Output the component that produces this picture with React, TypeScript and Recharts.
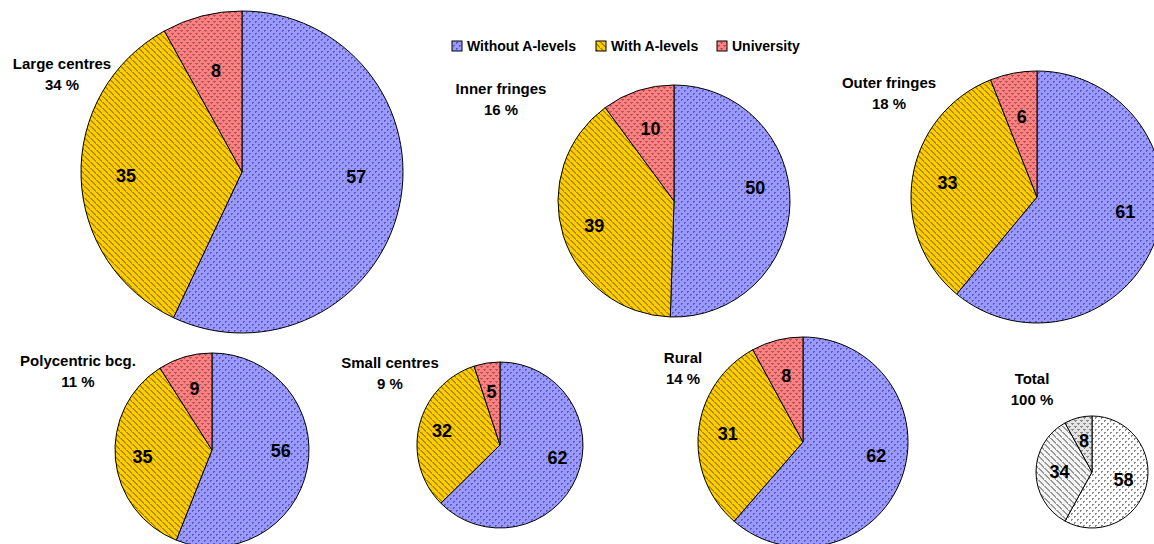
import { PieChart, Pie, Cell } from 'recharts'

const categories = ['Without A-levels', 'With A-levels', 'University']
const groups = ['Large centres', 'Inner fringes', 'Outer fringes', 'Polycentric bcg.', 'Small centres', 'Rural', 'Total']
const groupShares = [34, 16, 18, 11, 9, 14, 100]
const withoutALevels = [57, 50, 61, 56, 62, 62, 58]
const withALevels = [35, 39, 33, 35, 32, 31, 34]
const university = [8, 10, 6, 9, 5, 8, 8]

// where each pie sits on the page (pixels)
const layout = [
  { cx: 242, cy: 172, r: 161, tx: 62, ty: 63 },
  { cx: 674, cy: 201, r: 116, tx: 501, ty: 88 },
  { cx: 1037, cy: 197, r: 126, tx: 889, ty: 82 },
  { cx: 212, cy: 450, r: 97, tx: 78, ty: 360 },
  { cx: 500, cy: 445, r: 83, tx: 390, ty: 362 },
  { cx: 803, cy: 442, r: 105, tx: 683, ty: 357 },
  { cx: 1092, cy: 472, r: 56, tx: 1032, ty: 378 },
]

// label placement per slice type: fraction of radius, angle nudge (deg)
const labelRadius = [0.71, 0.72, 0.65]
const labelShift = [10, 0, 0]

const colorFills = ['url(#pat-blue)', 'url(#pat-yellow)', 'url(#pat-red)']
const totalFills = ['url(#pat-t0)', 'url(#pat-t1)', 'url(#pat-t2)']

const FONT = '"Liberation Sans", Arial, Helvetica, sans-serif'
const RAD = Math.PI / 180

const pieData = groups.map((g, i) => [
  { name: categories[0], value: withoutALevels[i] },
  { name: categories[1], value: withALevels[i] },
  { name: categories[2], value: university[i] },
])

const valueLabel = (isTotal: boolean) => (props: any) => {
  const { cx, cy, midAngle, outerRadius, value, index } = props
  const k = isTotal ? 0.58 : labelRadius[index]
  const a = (midAngle + (isTotal ? 0 : labelShift[index])) * RAD
  const x = cx + outerRadius * k * Math.cos(-a)
  const y = cy + outerRadius * k * Math.sin(-a)
  return (
    <text x={x} y={y} textAnchor="middle" dominantBaseline="central"
      fontFamily={FONT} fontWeight="bold" fontSize={18} fill="#000">
      {value}
    </text>
  )
}

export default function App() {
  return (
    <div style={{ position: 'absolute', left: 0, top: 0, background: '#fff' }}>
      <PieChart width={1154} height={544} margin={{ top: 0, right: 0, bottom: 0, left: 0 }}>
        <defs>
          <pattern id="pat-blue" width={6} height={6} patternUnits="userSpaceOnUse">
            <rect width={6} height={6} fill="#9999ff" />
            <path d="M0,0h2v1h-1v1h-1z M3,3h2v1h-1v1h-1z" fill="#5c5cb0" />
          </pattern>
          <pattern id="pat-yellow" width={6} height={6} patternUnits="userSpaceOnUse">
            <rect width={6} height={6} fill="#ffcc00" />
            <path d="M0,0h2v1h1v1h1v1h1v1h1v2h-1v-1h-1v-1h-1v-1h-1v-1h-1v-1h-1z" fill="#b08c00" />
          </pattern>
          <pattern id="pat-red" width={6} height={6} patternUnits="userSpaceOnUse">
            <rect width={6} height={6} fill="#ff8080" />
            <path d="M0,0h3v1h-3z M3,3h3v1h-3z M1,1h1v1h-1z M4,4h1v1h-1z" fill="#b05858" />
          </pattern>
          <pattern id="pat-t0" width={6} height={6} patternUnits="userSpaceOnUse">
            <rect width={6} height={6} fill="#fff" />
            <path d="M0,0h2v1h-1v1h-1z M3,3h2v1h-1v1h-1z" fill="#8a8a8a" />
          </pattern>
          <pattern id="pat-t1" width={6} height={6} patternUnits="userSpaceOnUse">
            <rect width={6} height={6} fill="#f4f4f4" />
            <path d="M0,0h2v1h1v1h1v1h1v1h1v2h-1v-1h-1v-1h-1v-1h-1v-1h-1v-1h-1z" fill="#9a9a9a" />
          </pattern>
          <pattern id="pat-t2" width={6} height={6} patternUnits="userSpaceOnUse">
            <rect width={6} height={6} fill="#e4e4e4" />
            <path d="M0,0h3v1h-3z M3,3h3v1h-3z M1,1h1v1h-1z M4,4h1v1h-1z" fill="#8a8a8a" />
          </pattern>
        </defs>

        {pieData.map((data, i) => {
          const l = layout[i]
          const isTotal = i === groups.length - 1
          const fills = isTotal ? totalFills : colorFills
          return (
            <Pie
              key={groups[i]}
              data={data}
              dataKey="value"
              nameKey="name"
              cx={l.cx}
              cy={l.cy}
              outerRadius={l.r}
              startAngle={90}
              endAngle={-270}
              stroke="#000"
              strokeWidth={1}
              label={valueLabel(isTotal)}
              labelLine={false}
              isAnimationActive={false}
            >
              {data.map((d, j) => (
                <Cell key={d.name} fill={fills[j]} />
              ))}
            </Pie>
          )
        })}

        {/* pie titles */}
        {groups.map((g, i) => (
          <text key={g} fontFamily={FONT} fontWeight="bold" fontSize={15} fill="#000" textAnchor="middle">
            <tspan x={layout[i].tx} y={layout[i].ty} dominantBaseline="central">{g}</tspan>
            <tspan x={layout[i].tx} y={layout[i].ty + 21} dominantBaseline="central">{groupShares[i]} %</tspan>
          </text>
        ))}

        {/* legend */}
        {categories.map((c, j) => (
          <g key={c}>
            <rect x={[452, 596, 717][j]} y={41} width={10} height={10} fill={colorFills[j]} stroke="#000" strokeWidth={1} />
            <text x={[452, 596, 717][j] + 15} y={46} dominantBaseline="central" fontFamily={FONT} fontWeight="bold" fontSize={14} fill="#000">
              {c}
            </text>
          </g>
        ))}
      </PieChart>
    </div>
  )
}
